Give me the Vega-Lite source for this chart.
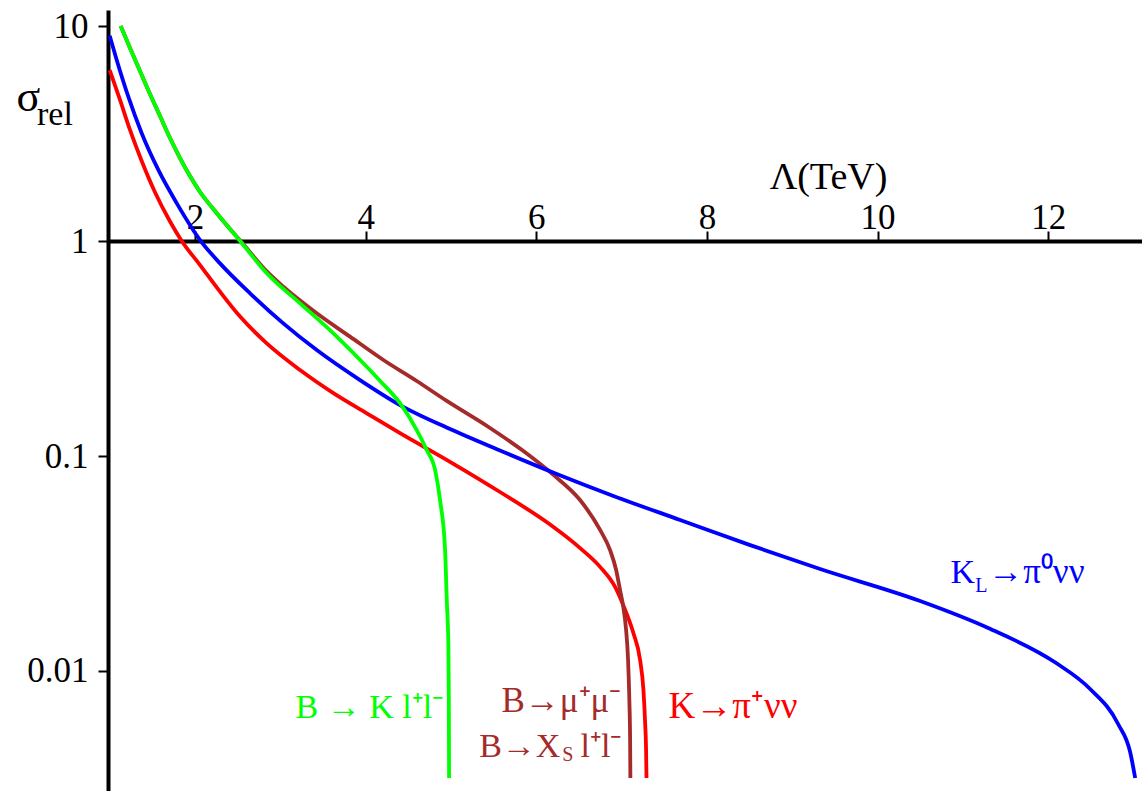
{
  "$schema": "https://vega.github.io/schema/vega-lite/v6.json",
  "width": 1034,
  "height": 781,
  "autosize": "none",
  "padding": {"left": 108, "top": 10, "right": 0, "bottom": 0},
  "background": "white",
  "title": {
    "text": "rel",
    "anchor": "start",
    "frame": "group",
    "font": "Liberation Serif",
    "fontSize": 34,
    "fontWeight": "normal",
    "color": "black",
    "baseline": "alphabetic",
    "offset": 0,
    "dx": -71,
    "dy": 150
  },
  "config": {
    "view": {"stroke": null},
    "font": "Liberation Serif"
  },
  "data": {
    "values": [
      {"process": "K → π⁺νν", "lambda": 1.0, "sigma": 6.24},
      {"process": "K → π⁺νν", "lambda": 1.121, "sigma": 4.53},
      {"process": "K → π⁺νν", "lambda": 1.238, "sigma": 3.284},
      {"process": "K → π⁺νν", "lambda": 1.375, "sigma": 2.356},
      {"process": "K → π⁺νν", "lambda": 1.531, "sigma": 1.685},
      {"process": "K → π⁺νν", "lambda": 1.707, "sigma": 1.232},
      {"process": "K → π⁺νν", "lambda": 1.844, "sigma": 1.0},
      {"process": "K → π⁺νν", "lambda": 2.059, "sigma": 0.773},
      {"process": "K → π⁺νν", "lambda": 2.293, "sigma": 0.581},
      {"process": "K → π⁺νν", "lambda": 2.528, "sigma": 0.445},
      {"process": "K → π⁺νν", "lambda": 2.841, "sigma": 0.334},
      {"process": "K → π⁺νν", "lambda": 3.231, "sigma": 0.251},
      {"process": "K → π⁺νν", "lambda": 3.622, "sigma": 0.196},
      {"process": "K → π⁺νν", "lambda": 4.013, "sigma": 0.158},
      {"process": "K → π⁺νν", "lambda": 4.403, "sigma": 0.1277},
      {"process": "K → π⁺νν", "lambda": 4.989, "sigma": 0.094},
      {"process": "K → π⁺νν", "lambda": 5.575, "sigma": 0.068},
      {"process": "K → π⁺νν", "lambda": 6.162, "sigma": 0.048},
      {"process": "K → π⁺νν", "lambda": 6.514, "sigma": 0.0373},
      {"process": "K → π⁺νν", "lambda": 6.748, "sigma": 0.0305},
      {"process": "K → π⁺νν", "lambda": 6.924, "sigma": 0.0246},
      {"process": "K → π⁺νν", "lambda": 7.018, "sigma": 0.0203},
      {"process": "K → π⁺νν", "lambda": 7.139, "sigma": 0.01497},
      {"process": "K → π⁺νν", "lambda": 7.217, "sigma": 0.01124},
      {"process": "K → π⁺νν", "lambda": 7.256, "sigma": 0.00816},
      {"process": "K → π⁺νν", "lambda": 7.276, "sigma": 0.00573},
      {"process": "K → π⁺νν", "lambda": 7.287, "sigma": 0.0043},
      {"process": "K → π⁺νν", "lambda": 7.292, "sigma": 0.00318},

      {"process": "B → μ⁺μ⁻", "lambda": 1.129, "sigma": 10.0},
      {"process": "B → μ⁺μ⁻", "lambda": 1.238, "sigma": 7.9},
      {"process": "B → μ⁺μ⁻", "lambda": 1.355, "sigma": 6.18},
      {"process": "B → μ⁺μ⁻", "lambda": 1.472, "sigma": 4.83},
      {"process": "B → μ⁺μ⁻", "lambda": 1.59, "sigma": 3.814},
      {"process": "B → μ⁺μ⁻", "lambda": 1.707, "sigma": 3.013},
      {"process": "B → μ⁺μ⁻", "lambda": 1.824, "sigma": 2.432},
      {"process": "B → μ⁺μ⁻", "lambda": 1.941, "sigma": 2.006},
      {"process": "B → μ⁺μ⁻", "lambda": 2.059, "sigma": 1.69},
      {"process": "B → μ⁺μ⁻", "lambda": 2.234, "sigma": 1.379},
      {"process": "B → μ⁺μ⁻", "lambda": 2.41, "sigma": 1.137},
      {"process": "B → μ⁺μ⁻", "lambda": 2.53, "sigma": 1.005},
      {"process": "B → μ⁺μ⁻", "lambda": 2.841, "sigma": 0.722},
      {"process": "B → μ⁺μ⁻", "lambda": 3.035, "sigma": 0.613},
      {"process": "B → μ⁺μ⁻", "lambda": 3.427, "sigma": 0.4613},
      {"process": "B → μ⁺μ⁻", "lambda": 3.817, "sigma": 0.359},
      {"process": "B → μ⁺μ⁻", "lambda": 4.208, "sigma": 0.2796},
      {"process": "B → μ⁺μ⁻", "lambda": 4.599, "sigma": 0.2233},
      {"process": "B → μ⁺μ⁻", "lambda": 4.951, "sigma": 0.1803},
      {"process": "B → μ⁺μ⁻", "lambda": 5.458, "sigma": 0.135},
      {"process": "B → μ⁺μ⁻", "lambda": 5.849, "sigma": 0.1055},
      {"process": "B → μ⁺μ⁻", "lambda": 6.201, "sigma": 0.0817},
      {"process": "B → μ⁺μ⁻", "lambda": 6.513, "sigma": 0.0624},
      {"process": "B → μ⁺μ⁻", "lambda": 6.748, "sigma": 0.0453},
      {"process": "B → μ⁺μ⁻", "lambda": 6.865, "sigma": 0.0365},
      {"process": "B → μ⁺μ⁻", "lambda": 6.936, "sigma": 0.0295},
      {"process": "B → μ⁺μ⁻", "lambda": 6.982, "sigma": 0.0238},
      {"process": "B → μ⁺μ⁻", "lambda": 7.018, "sigma": 0.02006},
      {"process": "B → μ⁺μ⁻", "lambda": 7.053, "sigma": 0.01551},
      {"process": "B → μ⁺μ⁻", "lambda": 7.076, "sigma": 0.01125},
      {"process": "B → μ⁺μ⁻", "lambda": 7.091, "sigma": 0.00733},
      {"process": "B → μ⁺μ⁻", "lambda": 7.1, "sigma": 0.00478},
      {"process": "B → μ⁺μ⁻", "lambda": 7.103, "sigma": 0.00318},

      {"process": "K_L → π⁰νν", "lambda": 1.0, "sigma": 9.0},
      {"process": "K_L → π⁰νν", "lambda": 1.082, "sigma": 6.95},
      {"process": "K_L → π⁰νν", "lambda": 1.218, "sigma": 4.69},
      {"process": "K_L → π⁰νν", "lambda": 1.375, "sigma": 3.17},
      {"process": "K_L → π⁰νν", "lambda": 1.57, "sigma": 2.14},
      {"process": "K_L → π⁰νν", "lambda": 1.785, "sigma": 1.5},
      {"process": "K_L → π⁰νν", "lambda": 2.059, "sigma": 1.01},
      {"process": "K_L → π⁰νν", "lambda": 2.293, "sigma": 0.787},
      {"process": "K_L → π⁰νν", "lambda": 2.645, "sigma": 0.571},
      {"process": "K_L → π⁰νν", "lambda": 3.035, "sigma": 0.414},
      {"process": "K_L → π⁰νν", "lambda": 3.427, "sigma": 0.311},
      {"process": "K_L → π⁰νν", "lambda": 3.934, "sigma": 0.2255},
      {"process": "K_L → π⁰νν", "lambda": 4.403, "sigma": 0.1725},
      {"process": "K_L → π⁰νν", "lambda": 4.989, "sigma": 0.1335},
      {"process": "K_L → π⁰νν", "lambda": 5.575, "sigma": 0.1061},
      {"process": "K_L → π⁰νν", "lambda": 6.24, "sigma": 0.0825},
      {"process": "K_L → π⁰νν", "lambda": 6.904, "sigma": 0.0652},
      {"process": "K_L → π⁰νν", "lambda": 7.686, "sigma": 0.0504},
      {"process": "K_L → π⁰νν", "lambda": 8.507, "sigma": 0.0385},
      {"process": "K_L → π⁰νν", "lambda": 9.327, "sigma": 0.0298},
      {"process": "K_L → π⁰νν", "lambda": 10.5, "sigma": 0.02116},
      {"process": "K_L → π⁰νν", "lambda": 11.297, "sigma": 0.01585},
      {"process": "K_L → π⁰νν", "lambda": 12.094, "sigma": 0.01089},
      {"process": "K_L → π⁰νν", "lambda": 12.492, "sigma": 0.00825},
      {"process": "K_L → π⁰νν", "lambda": 12.82, "sigma": 0.00567},
      {"process": "K_L → π⁰νν", "lambda": 12.961, "sigma": 0.0042},
      {"process": "K_L → π⁰νν", "lambda": 13.02, "sigma": 0.00318},

      {"process": "B → K l⁺l⁻", "lambda": 1.129, "sigma": 10.0},
      {"process": "B → K l⁺l⁻", "lambda": 1.238, "sigma": 7.9},
      {"process": "B → K l⁺l⁻", "lambda": 1.355, "sigma": 6.18},
      {"process": "B → K l⁺l⁻", "lambda": 1.472, "sigma": 4.83},
      {"process": "B → K l⁺l⁻", "lambda": 1.59, "sigma": 3.814},
      {"process": "B → K l⁺l⁻", "lambda": 1.707, "sigma": 3.013},
      {"process": "B → K l⁺l⁻", "lambda": 1.824, "sigma": 2.432},
      {"process": "B → K l⁺l⁻", "lambda": 1.941, "sigma": 2.006},
      {"process": "B → K l⁺l⁻", "lambda": 2.059, "sigma": 1.69},
      {"process": "B → K l⁺l⁻", "lambda": 2.234, "sigma": 1.379},
      {"process": "B → K l⁺l⁻", "lambda": 2.41, "sigma": 1.137},
      {"process": "B → K l⁺l⁻", "lambda": 2.528, "sigma": 1.0},
      {"process": "B → K l⁺l⁻", "lambda": 2.841, "sigma": 0.708},
      {"process": "B → K l⁺l⁻", "lambda": 3.231, "sigma": 0.513},
      {"process": "B → K l⁺l⁻", "lambda": 3.622, "sigma": 0.372},
      {"process": "B → K l⁺l⁻", "lambda": 4.013, "sigma": 0.26},
      {"process": "B → K l⁺l⁻", "lambda": 4.17, "sigma": 0.2233},
      {"process": "B → K l⁺l⁻", "lambda": 4.403, "sigma": 0.176},
      {"process": "B → K l⁺l⁻", "lambda": 4.599, "sigma": 0.132},
      {"process": "B → K l⁺l⁻", "lambda": 4.716, "sigma": 0.1066},
      {"process": "B → K l⁺l⁻", "lambda": 4.814, "sigma": 0.0861},
      {"process": "B → K l⁺l⁻", "lambda": 4.872, "sigma": 0.0624},
      {"process": "B → K l⁺l⁻", "lambda": 4.931, "sigma": 0.0366},
      {"process": "B → K l⁺l⁻", "lambda": 4.951, "sigma": 0.0214},
      {"process": "B → K l⁺l⁻", "lambda": 4.97, "sigma": 0.013},
      {"process": "B → K l⁺l⁻", "lambda": 4.975, "sigma": 0.00733},
      {"process": "B → K l⁺l⁻", "lambda": 4.978, "sigma": 0.00318}
    ]
  },
  "encoding": {
    "x": {
      "field": "lambda",
      "type": "quantitative",
      "scale": {"domain": [0.98, 13.1], "nice": false, "zero": false},
      "axis": {
        "orient": "top",
        "offset": -231,
        "values": [2, 4, 6, 8, 10, 12],
        "grid": false,
        "domainColor": "black",
        "domainWidth": 4,
        "tickColor": "black",
        "tickWidth": 2,
        "tickSize": 10,
        "labelFont": "Liberation Serif",
        "labelFontSize": 35,
        "labelColor": "black",
        "labelBaseline": "alphabetic",
        "labelPadding": 3,
        "labelOverlap": false,
        "labelFlush": false,
        "labelBound": false,
        "title": "Λ(TeV)",
        "titleFont": "Liberation Serif",
        "titleFontSize": 38,
        "titleFontWeight": "normal",
        "titleColor": "black",
        "titleAlign": "center",
        "titleBaseline": "alphabetic",
        "titleX": 720,
        "titleY": -53
      }
    },
    "y": {
      "field": "sigma",
      "type": "quantitative",
      "scale": {"type": "log", "domain": [0.002766, 11.87], "nice": false},
      "axis": {
        "orient": "left",
        "values": [0.01, 0.1, 1, 10],
        "format": "~g",
        "grid": false,
        "domainColor": "black",
        "domainWidth": 4,
        "tickColor": "black",
        "tickWidth": 2,
        "tickSize": 10,
        "labelFont": "Liberation Serif",
        "labelFontSize": 35,
        "labelColor": "black",
        "labelPadding": 10,
        "labelOverlap": false,
        "labelBound": false,
        "labelFlush": false,
        "title": "σ",
        "titleFont": "Liberation Serif",
        "titleFontSize": 44,
        "titleFontWeight": "normal",
        "titleColor": "black",
        "titleAngle": 0,
        "titleAlign": "left",
        "titleBaseline": "alphabetic",
        "titleX": -92,
        "titleY": 100
      }
    }
  },
  "layer": [
    {
      "mark": {"type": "line", "strokeWidth": 3.8, "strokeJoin": "round", "strokeCap": "butt", "interpolate": "monotone"},
      "encoding": {
        "color": {
          "field": "process",
          "type": "nominal",
          "scale": {
            "domain": ["K → π⁺νν", "B → μ⁺μ⁻", "K_L → π⁰νν", "B → K l⁺l⁻"],
            "range": ["#ff0000", "#a52a2a", "#0000ff", "#00ff00"]
          },
          "legend": null
        }
      }
    },
    {
      "transform": [{"filter": "datum.process == 'B → K l⁺l⁻' && datum.sigma < 0.0035"}],
      "mark": {"type": "text", "text": "B → K l⁺l⁻", "font": "Liberation Serif", "fontSize": 34, "color": "#00ff00", "align": "right", "baseline": "alphabetic", "dx": -6, "dy": -60}
    },
    {
      "transform": [{"filter": "datum.process == 'B → μ⁺μ⁻' && datum.sigma < 0.0035"}],
      "mark": {"type": "text", "text": "B→μ⁺μ⁻", "font": "Liberation Serif", "fontSize": 35, "color": "#a52a2a", "align": "right", "baseline": "alphabetic", "dx": -9, "dy": -66}
    },
    {
      "transform": [{"filter": "datum.process == 'B → μ⁺μ⁻' && datum.sigma < 0.0035"}],
      "mark": {"type": "text", "text": "B→X", "font": "Liberation Serif", "fontSize": 34, "color": "#a52a2a", "align": "right", "baseline": "alphabetic", "dx": -70, "dy": -21}
    },
    {
      "transform": [{"filter": "datum.process == 'B → μ⁺μ⁻' && datum.sigma < 0.0035"}],
      "mark": {"type": "text", "text": "S", "font": "Liberation Serif", "fontSize": 20, "color": "#a52a2a", "align": "left", "baseline": "alphabetic", "dx": -68, "dy": -17}
    },
    {
      "transform": [{"filter": "datum.process == 'B → μ⁺μ⁻' && datum.sigma < 0.0035"}],
      "mark": {"type": "text", "text": "l⁺l⁻", "font": "Liberation Serif", "fontSize": 34, "color": "#a52a2a", "align": "right", "baseline": "alphabetic", "dx": -9, "dy": -21}
    },
    {
      "transform": [{"filter": "datum.process == 'K → π⁺νν' && datum.sigma < 0.0035"}],
      "mark": {"type": "text", "text": "K→π⁺νν", "font": "Liberation Serif", "fontSize": 37, "color": "#ff0000", "align": "left", "baseline": "alphabetic", "dx": 22, "dy": -60}
    },
    {
      "transform": [{"filter": "datum.process == 'K_L → π⁰νν' && datum.lambda == 10.5"}],
      "mark": {"type": "text", "text": "K", "font": "Liberation Serif", "fontSize": 34, "color": "#0000ff", "align": "right", "baseline": "alphabetic", "dx": 55, "dy": -18}
    },
    {
      "transform": [{"filter": "datum.process == 'K_L → π⁰νν' && datum.lambda == 10.5"}],
      "mark": {"type": "text", "text": "L", "font": "Liberation Serif", "fontSize": 20, "color": "#0000ff", "align": "left", "baseline": "alphabetic", "dx": 55, "dy": -9}
    },
    {
      "transform": [{"filter": "datum.process == 'K_L → π⁰νν' && datum.lambda == 10.5"}],
      "mark": {"type": "text", "text": "→π⁰νν", "font": "Liberation Serif", "fontSize": 35, "color": "#0000ff", "align": "left", "baseline": "alphabetic", "dx": 68, "dy": -18}
    }
  ]
}
